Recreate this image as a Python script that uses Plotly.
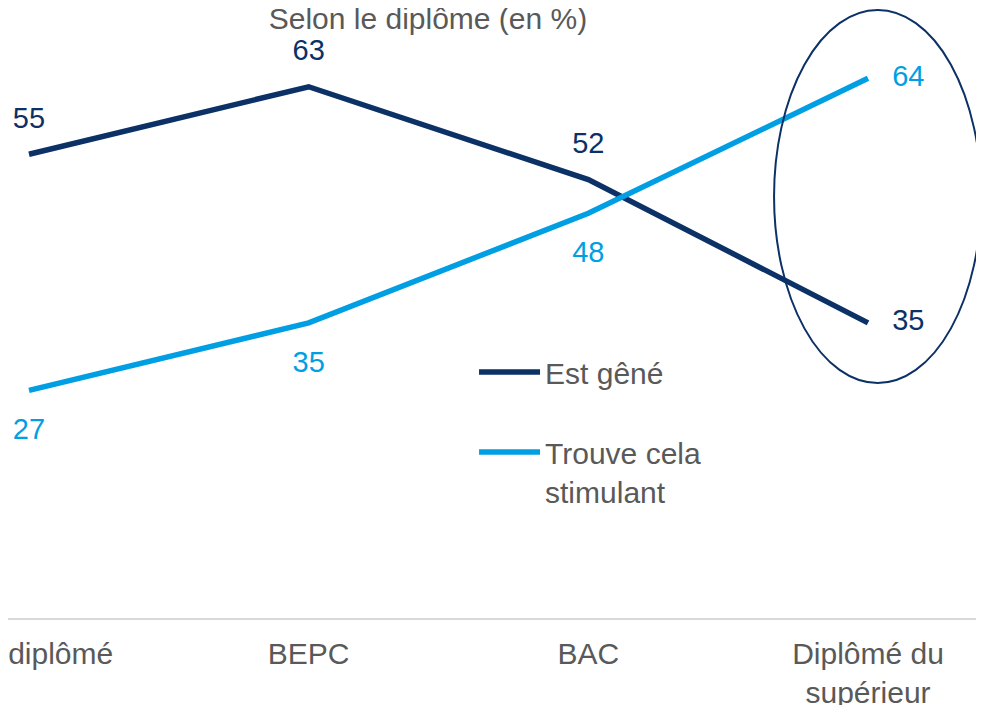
import plotly.graph_objects as go

categories = ["Non diplômé", "BEPC", "BAC", "Diplômé du<br>supérieur"]
est_gene = [55, 63, 52, 35]
stimulant = [27, 35, 48, 64]
series_names = ["Est gêné", "Trouve cela<br>stimulant"]

NAVY = "#0b3166"
BLUE = "#009fe3"
GREY = "#595959"
FONT = "Liberation Sans, Arial, sans-serif"

fig = go.Figure()

# invisible markers only serve to push the value labels away from the line
fig.add_trace(go.Scatter(
    x=categories, y=est_gene, name=series_names[0],
    mode="lines+markers+text", showlegend=False,
    line=dict(color=NAVY, width=5.5),
    marker=dict(size=[29, 29, 29, 37], opacity=0, line=dict(width=0)),
    text=[str(v) for v in est_gene],
    textposition=["top center", "top center", "top center", "middle right"],
    textfont=dict(family=FONT, size=29, color=NAVY),
    hoverinfo="skip",
))
fig.add_trace(go.Scatter(
    x=categories, y=stimulant, name=series_names[1],
    mode="lines+markers+text", showlegend=False,
    line=dict(color=BLUE, width=5.5),
    marker=dict(size=[42, 42, 42, 37], opacity=0, line=dict(width=0)),
    text=[str(v) for v in stimulant],
    textposition=["bottom center", "bottom center", "bottom center", "middle right"],
    textfont=dict(family=FONT, size=29, color=BLUE),
    hoverinfo="skip",
))

# legend entries (plain lines, no marker symbol)
for name, color, grp in [(series_names[0], NAVY, "a"), (series_names[1], BLUE, "b")]:
    fig.add_trace(go.Scatter(x=[None], y=[None], name=name, mode="lines",
                             legendgroup=grp, line=dict(color=color, width=5.5)))

# ellipse around the last category
fig.add_shape(type="circle", xref="x", yref="y",
              x0=2.664, x1=3.405, y0=27.87, y1=72.1,
              line=dict(color=NAVY, width=2))

fig.update_layout(
    width=976, height=697,
    margin=dict(l=0, r=0, t=0, b=87, autoexpand=False),
    paper_bgcolor="white", plot_bgcolor="white",
    font=dict(family=FONT, size=30, color=GREY),
    title=dict(text="Selon le diplôme (en %)", x=0.4303, xref="container", xanchor="center",
               y=1 - 10 / 697, yref="container", yanchor="middle",
               font=dict(family=FONT, size=30, color=GREY)),
    showlegend=True,
    legend=dict(x=0.4775, y=0.4459, xanchor="left", yanchor="top",
                itemwidth=61, valign="top", traceorder="grouped", tracegroupgap=38,
                font=dict(family=FONT, size=30, color=GREY),
                bgcolor="rgba(0,0,0,0)"),
    xaxis=dict(type="category", range=[-0.0751, 3.4147], showgrid=False, zeroline=False,
               showline=True, linecolor="#d9d9d9", linewidth=2, ticks="",
               automargin=False, ticklabelstandoff=8,
               tickfont=dict(family=FONT, size=30, color=GREY)),
    yaxis=dict(range=[0, 72.34], visible=False, automargin=False),
)

fig.write_html("out.html")
